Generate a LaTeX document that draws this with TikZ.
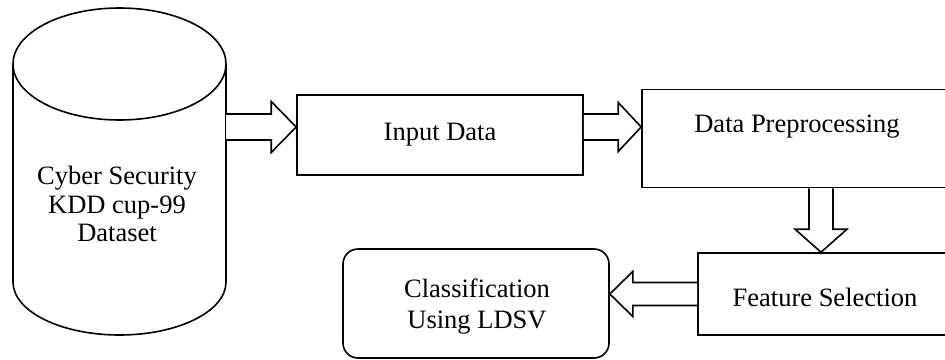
\documentclass[tikz,border=0pt]{standalone}
\usepackage{fontspec}
\setmainfont{Liberation Serif}
\usetikzlibrary{calc}
\tikzset{
  lw/.style={line width=1.6pt},
  txt/.style={font=\fontsize{26.5}{28.5}\selectfont, align=center, inner sep=0pt},
  box/.style={lw, draw, fill=white, rectangle, font=\fontsize{26.5}{30}\selectfont, align=center, inner sep=0pt},
  rbox/.style={box, rounded corners=15pt, font=\fontsize{26.5}{31}\selectfont},
  fat/.style={lw, draw, fill=white, line join=miter},
}
% horizontal fat arrow: source #1, target #2 (x of tip), shaft half #3, head half #4, signed head length #5
\newcommand{\harrow}[5]{%
  \draw[fat] let \p1=(#1), \p2=(#2) in
    (\x1,\y1+#3pt) -- (\x2-#5pt,\y1+#3pt) -- (\x2-#5pt,\y1+#4pt) -- (\x2,\y1)
    -- (\x2-#5pt,\y1-#4pt) -- (\x2-#5pt,\y1-#3pt) -- (\x1,\y1-#3pt);}
% vertical (downward) fat arrow
\newcommand{\varrow}[5]{%
  \draw[fat] let \p1=(#1), \p2=(#2) in
    (\x1-#3pt,\y1) -- (\x1-#3pt,\y2+#5pt) -- (\x1-#4pt,\y2+#5pt) -- (\x1,\y2)
    -- (\x1+#4pt,\y2+#5pt) -- (\x1+#3pt,\y2+#5pt) -- (\x1+#3pt,\y1);}
\begin{document}
\begin{tikzpicture}[x=1pt,y=-1pt]
\clip (0,0) rectangle (945,359);
\fill[white] (0,0) rectangle (945,359);
% cylinder
\draw[lw] (13,64) -- (13,282) arc[start angle=180, end angle=0, x radius=106.5, y radius=53] -- (226,64);
\draw[lw] (119.5,64) ellipse [x radius=106.5, y radius=56];
\node[txt] (cyl) at (117,204) {Cyber Security\\KDD cup-99\\Dataset};
\coordinate (cylE) at (226,127);
% boxes
\node[box, minimum width=286pt, minimum height=80pt] (in) at (440,135) {Input Data};
\node[box, minimum width=310pt, minimum height=98pt] (pre) at (797,138.5) {};
\node[txt] (pretxt) at (797,127) {Data Preprocessing};
\node[box, minimum width=254pt, minimum height=82pt] (fs) at (825,294) {};
\node[txt] (fstxt) at (825,297) {Feature Selection};
\node[rbox, minimum width=266pt, minimum height=109pt] (cls) at (476,303.5) {};
\node[txt, font=\fontsize{26.5}{31}\selectfont] (clstxt) at (477,307) {Classification\\Using LDSV};
% arrows
\harrow{cylE}{in.west}{13}{25.5}{25}
\harrow{[yshift=8pt]in.east}{pre.west}{13}{24.5}{23}
\varrow{[xshift=24pt]pre.south}{fs.north}{12}{26}{23}
\harrow{fs.west}{cls.east}{11.5}{22.5}{-23}
\end{tikzpicture}
\end{document}
